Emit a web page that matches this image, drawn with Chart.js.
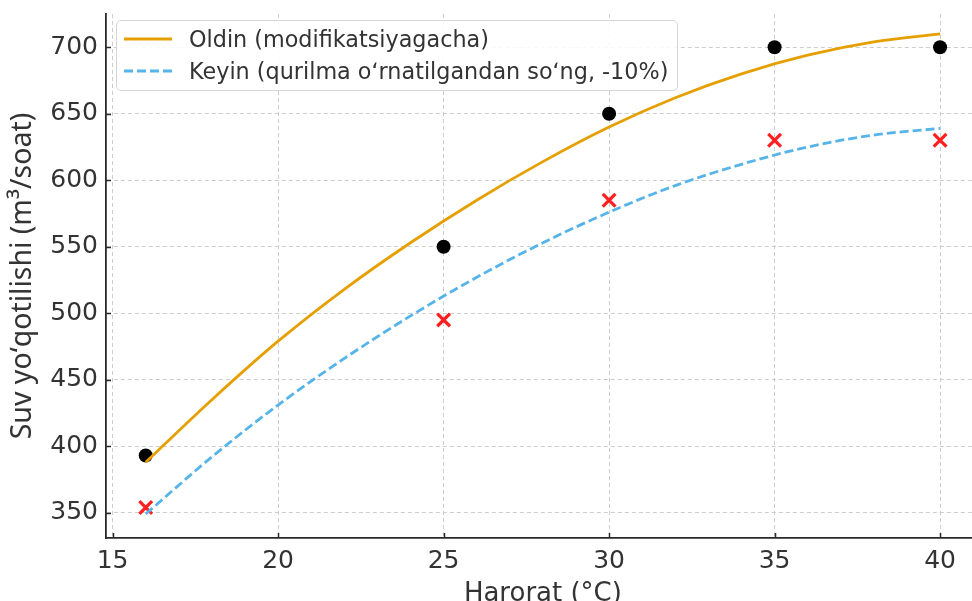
<!DOCTYPE html>
<html>
<head>
<meta charset="utf-8">
<script src="https://cdn.jsdelivr.net/npm/chart.js@4.4.1/dist/chart.umd.min.js"></script>
<style>
  html, body { margin: 0; padding: 0; background: #fff; overflow: hidden; }
  #wrap { position: relative; width: 992px; height: 606px; }
  #legend {
    position: absolute; left: 116px; top: 20px; width: 562px; height: 71px;
    border: 1px solid #d6d6d6; border-radius: 5px; background: rgba(255,255,255,0.85);
    font-family: "DejaVu Sans", sans-serif; font-size: 22.3px; color: #333;
    box-sizing: border-box;
  }
  .row { position: absolute; left: 0; height: 30px; white-space: nowrap; }
  .row svg { position: absolute; left: 7px; top: 0; }
  .row span { position: absolute; left: 72px; top: 2px; line-height: 26px; }
</style>
</head>
<body>
<div id="wrap">
  <canvas id="c" width="992" height="606"></canvas>
  <div id="legend"></div>
</div>
<script>
// ---- data ----
const curveTemps   = [16, 18, 20, 22, 24, 26, 28, 30, 32, 34, 36, 38, 40];
const beforeCurve  = [388, 435, 479, 518, 553, 585, 614, 640, 662, 680, 694, 704, 710];
const afterCurve   = [349, 392, 431, 466, 498, 527, 553, 576, 596, 612, 625, 634, 639];
const pointTemps   = [16, 25, 30, 35, 40];
const beforeMeasured = [393, 550, 650, 700, 700];
const afterMeasured  = [354, 495, 585, 630, 630];
const xTicks = [15, 20, 25, 30, 35, 40];
const yTicks = [350, 400, 450, 500, 550, 600, 650, 700];
const labelBefore = "Oldin (modifikatsiyagacha)";
const labelAfter  = "Keyin (qurilma oʻrnatilgandan soʻng, -10%)";
const xTitle = "Harorat (°C)";
const yTitle = "Suv yoʻqotilishi (m³/soat)";

const pts = (xs, ys) => xs.map((x, i) => ({ x: x, y: ys[i] }));

const ORANGE = "#E69F00", BLUE = "#56B4E9";

const inwardTicks = {
  id: "inwardTicks",
  afterDraw(chart) {
    const ctx = chart.ctx, a = chart.chartArea;
    const xs = chart.scales.x, ys = chart.scales.y;
    ctx.save();
    ctx.strokeStyle = "#2a2a2a";
    ctx.lineWidth = 1.5;
    ctx.beginPath();
    xs.ticks.forEach(t => {
      const p = Math.round(xs.getPixelForValue(t.value)) + 0.5;
      ctx.moveTo(p, a.bottom); ctx.lineTo(p, a.bottom - 5);
    });
    ys.ticks.forEach(t => {
      const p = Math.round(ys.getPixelForValue(t.value)) + 0.5;
      ctx.moveTo(a.left, p); ctx.lineTo(a.left + 5, p);
    });
    ctx.stroke();
    ctx.restore();
  }
};

const chart = new Chart(document.getElementById("c"), {
  type: "scatter",
  data: {
    datasets: [
      { label: labelBefore, data: pts(curveTemps, beforeCurve), showLine: true,
        borderColor: ORANGE, borderWidth: 2.8, pointRadius: 0, fill: false,
        cubicInterpolationMode: "monotone", order: 0 },
      { label: labelAfter, data: pts(curveTemps, afterCurve), showLine: true,
        borderColor: BLUE, borderWidth: 2.8, borderDash: [9, 4], pointRadius: 0, fill: false,
        cubicInterpolationMode: "monotone", order: 0 },
      { label: "o", data: pts(pointTemps, beforeMeasured), pointStyle: "circle",
        pointRadius: 7, backgroundColor: "#000", borderColor: "#000", borderWidth: 0, order: 1 },
      { label: "x", data: pts(pointTemps, afterMeasured), pointStyle: "crossRot",
        pointRadius: 9, borderColor: "#ff1f1f", borderWidth: 3.2, order: 1 }
    ]
  },
  options: {
    responsive: false, animation: false,
    layout: { padding: { top: 14, right: 1, left: 0, bottom: 0 } },
    plugins: { legend: { display: false }, tooltip: { enabled: false } },
    scales: {
      x: {
        type: "linear", min: 14.8, max: 41.2,
        afterBuildTicks: s => { s.ticks = xTicks.map(v => ({ value: v })); },
        afterFit: s => { s.height = 606 - 538; s.paddingLeft = 0; s.paddingRight = 0; },
        grid: { color: "#cdcdcd", lineWidth: 1, drawTicks: false },
        border: { display: true, color: "#2a2a2a", width: 1.8, dash: [4, 3] },
        ticks: { color: "#333", font: { family: "DejaVu Sans", size: 25 }, padding: 8, maxRotation: 0 },
        title: { display: true, text: xTitle, color: "#333",
                 font: { family: "DejaVu Sans", size: 26 }, padding: { top: 0, bottom: -4 } }
      },
      y: {
        type: "linear", min: 331, max: 725,
        afterBuildTicks: s => { s.ticks = yTicks.map(v => ({ value: v })); },
        afterFit: s => { s.width = 106; s.paddingTop = 0; s.paddingBottom = 0; },
        grid: { color: "#cdcdcd", lineWidth: 1, drawTicks: false },
        border: { display: true, color: "#2a2a2a", width: 1.8, dash: [4, 3] },
        ticks: { color: "#333", font: { family: "DejaVu Sans", size: 25 }, padding: 8 },
        title: { display: true, text: yTitle, color: "#333",
                 font: { family: "Noto Sans", size: 28.5 }, padding: { top: 6, bottom: 0 } }
      }
    }
  },
  plugins: [inwardTicks]
});

// HTML legend built from the dataset labels and styles
const lg = document.getElementById("legend");
[0, 1].forEach((i, k) => {
  const ds = chart.data.datasets[i];
  const row = document.createElement("div");
  row.className = "row";
  row.style.top = (k === 0 ? 3 : 35) + "px";
  const dash = ds.borderDash ? ds.borderDash.join(",") : "none";
  row.innerHTML = '<svg width="50" height="30"><line x1="0" y1="15" x2="48" y2="15" stroke="' +
    ds.borderColor + '" stroke-width="3" stroke-dasharray="' + dash + '"/></svg>';
  const sp = document.createElement("span");
  sp.textContent = ds.label;
  row.appendChild(sp);
  lg.appendChild(row);
});
</script>
</body>
</html>
